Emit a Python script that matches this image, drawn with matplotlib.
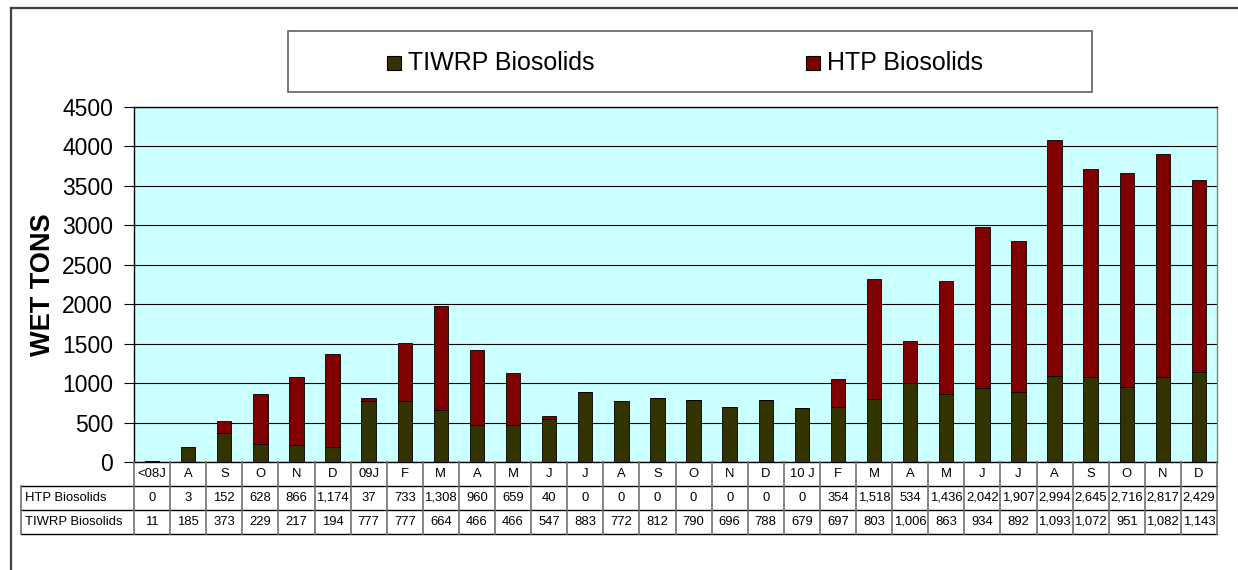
import matplotlib
matplotlib.use("Agg")
import matplotlib.pyplot as plt
from matplotlib.patches import Rectangle
from matplotlib.lines import Line2D
import numpy as np

plt.rcParams['font.family'] = ['Liberation Sans', 'DejaVu Sans']

categories = ["<08J", "A", "S", "O", "N", "D", "09J", "F", "M", "A", "M", "J", "J",
              "A", "S", "O", "N", "D", "10 J", "F", "M", "A", "M", "J", "J", "A",
              "S", "O", "N", "D"]
htp = [0, 3, 152, 628, 866, 1174, 37, 733, 1308, 960, 659, 40, 0, 0, 0, 0, 0, 0, 0,
       354, 1518, 534, 1436, 2042, 1907, 2994, 2645, 2716, 2817, 2429]
tiwrp = [11, 185, 373, 229, 217, 194, 777, 777, 664, 466, 466, 547, 883, 772, 812, 790,
         696, 788, 679, 697, 803, 1006, 863, 934, 892, 1093, 1072, 951, 1082, 1143]
series_names = ["TIWRP Biosolids", "HTP Biosolids"]
yticks = list(range(0, 4501, 500))

C_TIWRP = "#333300"
C_HTP = "#800000"
BG = "#CCFFFF"

W, H = 1238, 570
fig = plt.figure(figsize=(W / 100, H / 100), dpi=100)

def fx(px):
    return px / W

def fy(py):
    return 1 - py / H

# outer frame (extends beyond the picture on right and bottom)
fig.add_artist(Line2D([fx(11), fx(1240)], [fy(7.5), fy(7.5)], color="#404040", lw=1.6))
fig.add_artist(Line2D([fx(11), fx(11)], [fy(7.5), fy(575)], color="#404040", lw=1.6))

# plot area
L, R, T, B = 134, 1217, 107, 462
ax = fig.add_axes([fx(L), fy(B), fx(R) - fx(L), (B - T) / H])
ax.set_facecolor(BG)
n = len(categories)
x = np.arange(n)
ax.bar(x, tiwrp, width=0.4, color=C_TIWRP, edgecolor="black", linewidth=0.6, zorder=3)
ax.bar(x, htp, bottom=tiwrp, width=0.4, color=C_HTP, edgecolor="black", linewidth=0.6, zorder=3)
ax.set_xlim(-0.5, n - 0.5)
ax.set_ylim(0, 4500)
ax.set_yticks(yticks)
ax.set_yticklabels([str(v) for v in yticks], fontsize=16.5)
ax.tick_params(axis="y", length=7, width=0.8, pad=8, colors="black")
ax.set_xticks([])
ax.yaxis.grid(True, color="black", lw=0.8, zorder=1)
ax.set_axisbelow(True)
for s in ["left", "bottom", "top"]:
    ax.spines[s].set_color("black")
    ax.spines[s].set_linewidth(1.0)
ax.spines["right"].set_color("#808080")
ax.spines["right"].set_linewidth(1.0)

fig.text(fx(43), fy((T + B) / 2), "WET TONS", rotation=90, fontsize=19.5,
         fontweight="bold", ha="center", va="center")

# data table
TL, TB = 21, 534
colw = (R - L) / n
x_left = -0.5 - (L - TL) / colw
tab = fig.add_axes([fx(TL), fy(TB), fx(R) - fx(TL), (TB - B) / H])
tab.set_xlim(x_left, n - 0.5)
tab.set_ylim(3, 0)
tab.axis("off")
hcol = "black"
vcol = "#707070"
for yy in [1, 2, 3]:
    tab.plot([x_left, n - 0.5], [yy, yy], color=hcol, lw=1.0, clip_on=False)
tab.plot([x_left, x_left], [1, 3], color=vcol, lw=1.2, clip_on=False)
for i in range(n + 1):
    tab.plot([i - 0.5, i - 0.5], [0, 3], color=vcol, lw=1.2, clip_on=False)

def fmt(v):
    return f"{v:,}"

FS = 9.4
for i, c in enumerate(categories):
    tab.text(i, 0.5, c, ha="center", va="center", fontsize=FS)
    tab.text(i, 1.5, fmt(htp[i]), ha="center", va="center", fontsize=FS)
    tab.text(i, 2.5, fmt(tiwrp[i]), ha="center", va="center", fontsize=FS)
tab.text(x_left + 0.1, 1.5, series_names[1], ha="left", va="center", fontsize=FS)
tab.text(x_left + 0.1, 2.5, series_names[0], ha="left", va="center", fontsize=FS)

# legend box
lx0, lx1, ly0, ly1 = 288, 1092, 31, 92
fig.add_artist(Rectangle((fx(lx0), fy(ly1)), fx(lx1) - fx(lx0), (ly1 - ly0) / H,
                         facecolor="white", edgecolor="#606060", lw=1.2))
ly = (ly0 + ly1) / 2 + 1
for name, col, mx in [(series_names[0], C_TIWRP, 387), (series_names[1], C_HTP, 806)]:
    fig.add_artist(Rectangle((fx(mx), fy(ly + 7)), 14 / W, 14 / H,
                             facecolor=col, edgecolor="black", lw=0.8))
    fig.text(fx(mx + 21), fy(ly + 1), name, fontsize=18, ha="left", va="center")

fig.savefig("out.png", dpi=100)
